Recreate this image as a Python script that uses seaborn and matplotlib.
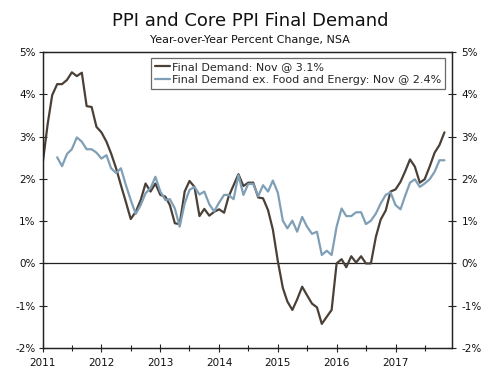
import matplotlib
matplotlib.use("Agg")
import numpy as np
import pandas as pd
import seaborn as sns
import matplotlib.pyplot as plt
import matplotlib.dates as mdates

# ---------------- data ----------------
dates = pd.date_range("2011-01-01", periods=83, freq="MS")

ppi_final_demand = [
    2.37, 3.30, 3.98, 4.24, 4.24, 4.34, 4.52, 4.43, 4.51, 3.72, 3.70, 3.23,
    3.10, 2.88, 2.60, 2.25, 1.85, 1.45, 1.05, 1.22, 1.50, 1.89, 1.70, 1.89,
    1.62, 1.58, 1.38, 0.95, 0.93, 1.70, 1.95, 1.81, 1.12, 1.29, 1.13, 1.22,
    1.28, 1.20, 1.58, 1.85, 2.11, 1.83, 1.91, 1.91, 1.56, 1.54, 1.26, 0.80,
    0.05, -0.58, -0.90, -1.10, -0.85, -0.55, -0.75, -0.95, -1.04, -1.43, -1.26, -1.10,
    0.00, 0.10, -0.09, 0.17, 0.02, 0.17, 0.00, 0.00, 0.63, 1.04, 1.25, 1.70,
    1.75, 1.93, 2.17, 2.46, 2.29, 1.91, 1.99, 2.29, 2.62, 2.80, 3.10,
]

ppi_core = [
    np.nan, np.nan, np.nan, 2.51, 2.30, 2.59, 2.70, 2.98, 2.88, 2.70, 2.70, 2.62,
    2.48, 2.56, 2.25, 2.14, 2.25, 1.85, 1.50, 1.17, 1.38, 1.66, 1.78, 2.05,
    1.70, 1.50, 1.52, 1.30, 0.87, 1.42, 1.74, 1.81, 1.63, 1.70, 1.40, 1.23,
    1.44, 1.62, 1.62, 1.52, 2.09, 1.62, 1.88, 1.88, 1.59, 1.85, 1.70, 1.96,
    1.67, 1.01, 0.83, 1.01, 0.75, 1.10, 0.87, 0.70, 0.75, 0.20, 0.30, 0.20,
    0.87, 1.30, 1.12, 1.12, 1.21, 1.21, 0.93, 1.01, 1.18, 1.42, 1.62, 1.68,
    1.38, 1.28, 1.59, 1.91, 1.99, 1.81, 1.89, 1.99, 2.17, 2.44, 2.44,
]

series_labels = [
    "Final Demand: Nov @ 3.1%",
    "Final Demand ex. Food and Energy: Nov @ 2.4%",
]
y_ticks = [-2, -1, 0, 1, 2, 3, 4, 5]
y_tick_labels = ["-2%", "-1%", "0%", "1%", "2%", "3%", "4%", "5%"]

title = "PPI and Core PPI Final Demand"
subtitle = "Year-over-Year Percent Change, NSA"

# ---------------- style ----------------
sns.set_style("ticks")
plt.rcParams["font.family"] = ["DejaVu Sans"]
plt.rcParams["axes.unicode_minus"] = False

dark = "#4a4037"
blue = "#7f9fb6"

df = pd.DataFrame({"date": dates,
                   series_labels[0]: ppi_final_demand,
                   series_labels[1]: ppi_core})
long = df.melt(id_vars="date", var_name="series", value_name="value").dropna()

fig = plt.figure(figsize=(5, 3.75), dpi=100)
ax = fig.add_axes([0.0854, 0.072, 0.818, 0.7893])

sns.lineplot(data=long, x="date", y="value", hue="series",
             hue_order=series_labels, palette=[dark, blue],
             linewidth=1.6, ax=ax)

ax.axhline(0, color="#222222", lw=0.9, zorder=1)

ax.set_xlim(pd.Timestamp("2011-01-01"), pd.Timestamp("2017-12-16"))
ax.set_ylim(-2, 5)
ax.set_xlabel("")
ax.set_ylabel("")
ax.set_yticks(y_ticks)
ax.set_yticklabels(y_tick_labels)

ax.xaxis.set_major_locator(mdates.YearLocator())
ax.xaxis.set_major_formatter(mdates.DateFormatter("%Y"))
ax.xaxis.set_minor_locator(mdates.MonthLocator(bymonth=7))

for sp in ax.spines.values():
    sp.set_visible(True)
    sp.set_color("#222222")
    sp.set_linewidth(0.9)

ax.tick_params(axis="both", which="major", direction="inout", length=6,
               width=0.8, color="#222222", labelsize=7.5, labelcolor="#111111")
ax.tick_params(axis="x", which="major", pad=4)
ax.tick_params(axis="y", which="major", pad=2)
ax.tick_params(axis="x", which="minor", direction="inout", length=5,
               width=0.8, color="#222222")

ax2 = ax.twinx()
ax2.set_ylim(-2, 5)
ax2.set_yticks(y_ticks)
ax2.set_yticklabels(y_tick_labels)
ax2.tick_params(axis="y", direction="inout", length=6, width=0.8,
                color="#222222", labelsize=7.5, labelcolor="#111111", pad=4)
for sp in ax2.spines.values():
    sp.set_color("#222222")
    sp.set_linewidth(0.9)
ax2.grid(False)

handles, labels = ax.get_legend_handles_labels()
leg = ax.legend(handles, labels, loc="upper right",
                bbox_to_anchor=(0.984, 0.979), borderaxespad=0,
                fontsize=8, handlelength=1.4, handletextpad=0.15,
                labelspacing=0.28, borderpad=0.35, frameon=True,
                fancybox=False, edgecolor="#444444")
leg.get_frame().set_linewidth(0.9)

fig.text(0.5, 0.945, title, ha="center", va="center", fontsize=13, color="#111111")
fig.text(0.5, 0.893, subtitle, ha="center", va="center", fontsize=8, color="#111111")

fig.savefig("out.png", dpi=100, facecolor="white")
